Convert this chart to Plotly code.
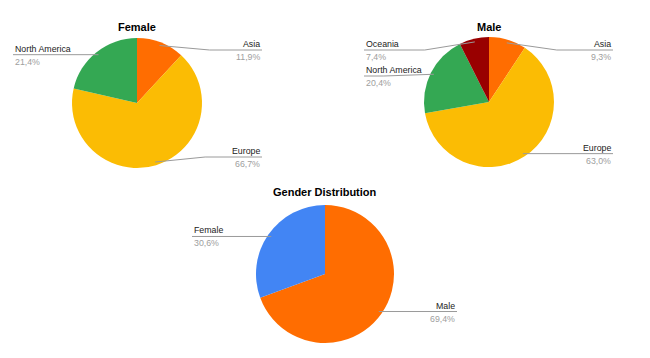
import plotly.graph_objects as go
import math

# ---- data ----
female_labels = ["Asia", "Europe", "North America"]
female_values = [11.9, 66.7, 21.4]
male_labels = ["Asia", "Europe", "North America", "Oceania"]
male_values = [9.3, 63.0, 20.4, 7.4]
gender_labels = ["Male", "Female"]
gender_values = [69.4, 30.6]

# ---- styles ----
COL = {"Asia": "#FF6D01", "Europe": "#FBBC04", "North America": "#34A853",
       "Oceania": "#990000", "Male": "#FF6D01", "Female": "#4285F4"}
W, H = 650, 358
FONT = "Arial, Liberation Sans, sans-serif"
LABEL_SIZE = 8.8
TITLE_SIZE = 11

# layout of each pie (pixels): center, radius, label edges, label-line clamp
pies = [
    dict(title="Female", labels=female_labels, values=female_values,
         cx=137, cy=103, r=65, left=13, right=262, ymin=50, ymax=157, ty=27),
    dict(title="Male", labels=male_labels, values=male_values,
         cx=489, cy=102, r=65, left=364, right=613, ymin=50, ymax=157, ty=27),
    dict(title="Gender Distribution", labels=gender_labels, values=gender_values,
         cx=325, cy=274, r=69, left=192, right=457, ymin=215, ymax=330, ty=191.5),
]


def px(x):
    return x / W


def py(y):
    return 1 - y / H


fig = go.Figure()
shapes = []
annotations = []

for p in pies:
    cx, cy, r = p["cx"], p["cy"], p["r"]
    fig.add_trace(go.Pie(
        labels=p["labels"], values=p["values"], sort=False,
        direction="clockwise", rotation=0,
        marker=dict(colors=[COL[l] for l in p["labels"]], line=dict(width=0)),
        textinfo="none", hoverinfo="label+percent", showlegend=False,
        domain=dict(x=[px(cx - r), px(cx + r)], y=[py(cy + r), py(cy - r)]),
    ))
    annotations.append(dict(
        x=px(cx), y=py(p["ty"]), xref="paper", yref="paper", showarrow=False,
        text="<b>" + p["title"] + "</b>", xanchor="center", yanchor="middle",
        font=dict(family=FONT, size=TITLE_SIZE, color="#000000")))

    total = sum(p["values"])
    cum = 0
    items = []
    for lab, v in zip(p["labels"], p["values"]):
        mid = (cum + v / 2) / total * 2 * math.pi
        cum += v
        sx = cx + 0.95 * r * math.sin(mid)
        sy = cy - 0.95 * r * math.cos(mid)
        side = "right" if math.sin(mid) > 0 else "left"
        ly = min(max(sy, p["ymin"]), p["ymax"])
        items.append(dict(lab=lab, v=v, sx=sx, sy=sy, side=side, ly=ly))
    # resolve collisions per side
    for side in ("left", "right"):
        grp = sorted([it for it in items if it["side"] == side], key=lambda d: d["ly"])
        for i in range(1, len(grp)):
            if grp[i]["ly"] - grp[i - 1]["ly"] < 26:
                grp[i]["ly"] = grp[i - 1]["ly"] + 26
    for it in items:
        sgn = 1 if it["side"] == "right" else -1
        edge = p["right"] if it["side"] == "right" else p["left"]
        if abs(it["ly"] - it["sy"]) > 1.5:
            ex = it["sx"] + sgn * 50
            shapes.append(dict(type="line", xref="paper", yref="paper",
                               x0=px(it["sx"]), y0=py(it["sy"]), x1=px(ex), y1=py(it["ly"]),
                               line=dict(color="#9a9a9a", width=1)))
            hx = ex
        else:
            hx = it["sx"]
        shapes.append(dict(type="line", xref="paper", yref="paper",
                           x0=px(hx), y0=py(it["ly"]), x1=px(edge), y1=py(it["ly"]),
                           line=dict(color="#9a9a9a", width=1)))
        anchor = "right" if it["side"] == "right" else "left"
        annotations.append(dict(
            x=px(edge), y=py(it["ly"]), xref="paper", yref="paper", showarrow=False,
            text=it["lab"], xanchor=anchor, yanchor="bottom", yshift=-1,
            font=dict(family=FONT, size=LABEL_SIZE, color="#222222")))
        annotations.append(dict(
            x=px(edge), y=py(it["ly"]), xref="paper", yref="paper", showarrow=False,
            text=f"{it['v']:.1f}%".replace(".", ","), xanchor=anchor, yanchor="top", yshift=0,
            font=dict(family=FONT, size=LABEL_SIZE, color="#9e9e9e")))

fig.update_layout(
    width=W, height=H, autosize=False,
    margin=dict(l=0, r=0, t=0, b=0),
    paper_bgcolor="#ffffff", plot_bgcolor="#ffffff",
    shapes=shapes, annotations=annotations,
)

fig.write_html("out.html", config={"displayModeBar": False},
               post_script="document.body.style.margin='0px';")
